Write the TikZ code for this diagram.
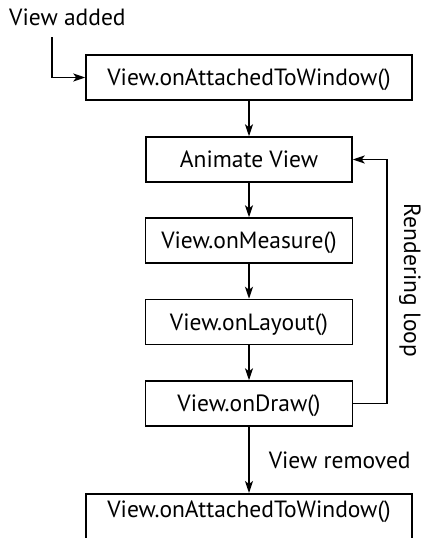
\documentclass[tikz,border=0pt]{standalone}
\usepackage{fontspec}
\setmainfont{PT Sans}
\usetikzlibrary{arrows.meta}

\tikzset{
  stagebox/.style={draw, line width=1.5pt, inner sep=0pt, minimum height=45pt,
    text height=17pt, text depth=1pt, font=\fontsize{23.5}{28}\selectfont},
  flow/.style={line width=1.5pt, -{Stealth[length=12pt,width=8pt,inset=3pt]}},
  plain/.style={font=\fontsize{23.5}{28}\selectfont, inner sep=0pt}
}

\begin{document}
\begin{tikzpicture}[x=1pt,y=-1pt]
        \useasboundingbox (0,0) rectangle (425,538);

        % Entry label
        \node[plain, anchor=base west] (added) at (9,25) {View added};
        \coordinate (addedfoot) at (52,37);

        % Life cycle boxes
        \node[stagebox, minimum width=326pt] (attach) at (249,77.5) {View.onAttachedToWindow()};
        \node[stagebox, minimum width=206pt] (animate) at (249,159.5) {Animate View};
        \node[stagebox, minimum width=207pt] (measure) at (249,240.5) {View.onMeasure()};
        \node[stagebox, minimum width=207pt] (layout) at (249,322) {View.onLayout()};
        \node[stagebox, minimum width=207pt] (draw) at (249,403.5) {View.onDraw()};
        \node[stagebox, minimum width=326pt, anchor=north, text depth=30pt, minimum height=0pt,
          inner ysep=7pt] (detach) at (249,493) {View.onAttachedToWindow()};

        % Loop corner
        \coordinate (loopcorner) at (387,403.5);

        % Arrows between stages
        \draw[flow] (addedfoot) |- (attach.west);
        \draw[flow] (attach) -- (animate);
        \draw[flow] (animate) -- (measure);
        \draw[flow] (measure) -- (layout);
        \draw[flow] (layout) -- (draw);
        \draw[flow] (draw) -- (detach) node[plain, midway, right=19pt] {View removed};

        % Rendering loop back to animation
        \draw[flow] (draw.east) -- (loopcorner) |- (animate.east);
        \node[plain, rotate=-90, anchor=base] (looplabel) at (404,280.5) {Rendering loop};
      \end{tikzpicture}
\end{document}
